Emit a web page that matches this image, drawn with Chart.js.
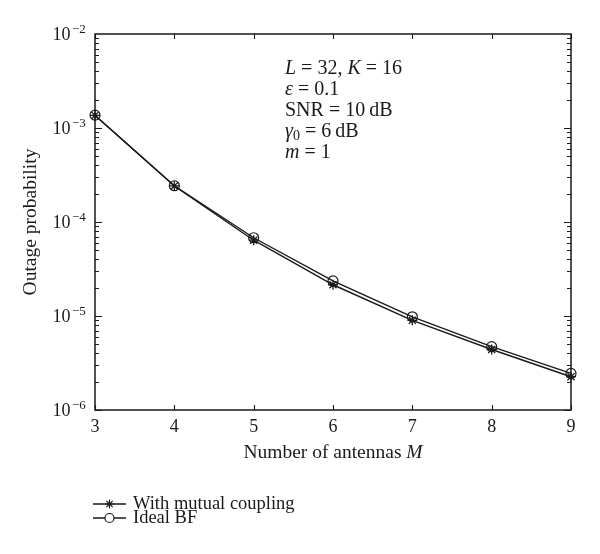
<!DOCTYPE html>
<html>
<head>
<meta charset="utf-8">
<script src="https://cdn.jsdelivr.net/npm/chart.js@4/dist/chart.umd.min.js"></script>
<style>
html,body{margin:0;padding:0;background:#fff;}
#c{display:block;}
</style>
</head>
<body>
<canvas id="c" width="600" height="554"></canvas>
<script>
// ---- data ----
const antennas = [3, 4, 5, 6, 7, 8, 9];
const withMutualCoupling = [1.36e-3, 2.42e-4, 6.4e-5, 2.15e-5, 9.0e-6, 4.4e-6, 2.26e-6];
const idealBF = [1.37e-3, 2.43e-4, 6.8e-5, 2.36e-5, 9.8e-6, 4.72e-6, 2.45e-6];
const xTickValues = [3, 4, 5, 6, 7, 8, 9];
const yDecadeExponents = [-2, -3, -4, -5, -6];
const seriesNames = ['With mutual coupling', 'Ideal BF'];
const xTitle = 'Number of antennas ';
const xTitleItalic = 'M';
const yTitle = 'Outage probability';

const FONT = '"Liberation Serif", "Times New Roman", serif';
const INK = '#1a1a1a';

function runs(ctx, x, y, parts, base) {
  let cx = x;
  for (const p of parts) {
    ctx.font = (p.italic ? 'italic ' : '') + (p.size || base || 17) + 'px ' + FONT;
    ctx.fillText(p.t, cx, y + (p.dy || 0));
    cx += ctx.measureText(p.t).width;
  }
  return cx;
}

const framePlugin = {
  id: 'frame',
  afterDraw(chart) {
    const ctx = chart.ctx;
    const a = chart.chartArea;
    const xs = chart.scales.x, ys = chart.scales.y;
    ctx.save();
    ctx.strokeStyle = INK;
    ctx.fillStyle = INK;
    // box
    ctx.lineWidth = 1.5;
    ctx.strokeRect(a.left, a.top, a.right - a.left, a.bottom - a.top);
    ctx.lineWidth = 1.1;
    // x ticks (inward, bottom & top)
    ctx.beginPath();
    for (const v of xTickValues) {
      const px = Math.round(xs.getPixelForValue(v)) + 0.5;
      ctx.moveTo(px, a.bottom); ctx.lineTo(px, a.bottom - 5);
      ctx.moveTo(px, a.top); ctx.lineTo(px, a.top + 5);
    }
    // y ticks major & minor
    for (let e = -6; e <= -3; e++) {
      for (let k = 1; k <= 9; k++) {
        const py = Math.round(ys.getPixelForValue(k * Math.pow(10, e))) + 0.5;
        const len = k === 1 ? 7 : 4;
        ctx.moveTo(a.left, py); ctx.lineTo(a.left + len, py);
        ctx.moveTo(a.right, py); ctx.lineTo(a.right - len, py);
      }
    }
    ctx.stroke();

    // x tick labels
    ctx.font = '18px ' + FONT;
    ctx.textAlign = 'center';
    ctx.textBaseline = 'alphabetic';
    for (const v of xTickValues) {
      ctx.fillText(String(v), xs.getPixelForValue(v), a.bottom + 22);
    }
    // y tick labels
    for (const e of yDecadeExponents) {
      const py = ys.getPixelForValue(Math.pow(10, e));
      ctx.textAlign = 'right';
      ctx.font = '18px ' + FONT;
      ctx.fillText('10', 70.5, py + 5.5);
      ctx.textAlign = 'left';
      ctx.font = '13px ' + FONT;
      ctx.fillText('\u2212' + Math.abs(e), 72, py - 1);
    }
    // x title
    const TS = 19.5;
    ctx.textAlign = 'left';
    ctx.font = TS + 'px ' + FONT;
    const w1 = ctx.measureText(xTitle).width;
    ctx.font = 'italic ' + TS + 'px ' + FONT;
    const w2 = ctx.measureText(xTitleItalic).width;
    const cx = (a.left + a.right) / 2;
    runs(ctx, cx - (w1 + w2) / 2, 458, [{t: xTitle}, {t: xTitleItalic, italic: true}], TS);
    // y title
    ctx.save();
    ctx.translate(36, (a.top + a.bottom) / 2);
    ctx.rotate(-Math.PI / 2);
    ctx.textAlign = 'center';
    ctx.font = TS + 'px ' + FONT;
    ctx.fillText(yTitle, 0, 0);
    ctx.restore();

    // annotation
    ctx.textAlign = 'left';
    const ax = 285, AS = 20;
    runs(ctx, ax, 73.5, [{t: 'L', italic: true}, {t: ' = 32, '}, {t: 'K', italic: true}, {t: ' = 16'}], AS);
    runs(ctx, ax, 94.8, [{t: '\u03b5', italic: true}, {t: ' = 0.1'}], AS);
    runs(ctx, ax, 116, [{t: 'SNR = 10\u2009dB'}], AS);
    runs(ctx, ax, 137, [{t: '\u03b3', italic: true}, {t: '0', size: 14, dy: 3}, {t: ' = 6\u2009dB'}], AS);
    runs(ctx, ax, 158.3, [{t: 'm', italic: true}, {t: ' = 1'}], AS);

    // legend
    const rows = [{y: 504, style: 'star'}, {y: 518, style: 'circle'}];
    rows.forEach((r, i) => {
      ctx.lineWidth = 1.4;
      ctx.beginPath();
      ctx.moveTo(93, r.y); ctx.lineTo(126, r.y);
      ctx.stroke();
      if (r.style === 'circle') {
        ctx.fillStyle = '#fff';
        ctx.beginPath(); ctx.arc(109.5, r.y, 4.5, 0, Math.PI * 2); ctx.fill();
        ctx.fillStyle = INK;
        ctx.lineWidth = 1.2;
        ctx.beginPath(); ctx.arc(109.5, r.y, 4.5, 0, Math.PI * 2); ctx.stroke();
      } else {
        ctx.lineWidth = 1.2;
        Chart.helpers.drawPoint(ctx, {pointStyle: r.style, radius: 4.5, borderWidth: 1.2, rotation: 0}, 109.5, r.y);
      }
      ctx.font = '18.5px ' + FONT;
      ctx.fillText(seriesNames[i], 133, r.y + 4.5);
    });
    ctx.restore();
  }
};

new Chart(document.getElementById('c'), {
  type: 'line',
  data: {
    datasets: [
      {
        label: seriesNames[0],
        data: antennas.map((m, i) => ({x: m, y: withMutualCoupling[i]})),
        borderColor: INK,
        borderWidth: 1.4,
        pointStyle: 'star',
        pointRadius: 5,
        pointBorderWidth: 1.3,
        pointBorderColor: INK,
        pointBackgroundColor: INK,
        tension: 0,
        fill: false,
        clip: false
      },
      {
        label: seriesNames[1],
        data: antennas.map((m, i) => ({x: m, y: idealBF[i]})),
        borderColor: INK,
        borderWidth: 1.4,
        pointStyle: 'circle',
        pointRadius: 5,
        pointBorderWidth: 1.2,
        pointBorderColor: INK,
        pointBackgroundColor: 'rgba(0,0,0,0)',
        tension: 0,
        fill: false,
        clip: false
      }
    ]
  },
  options: {
    responsive: false,
    animation: false,
    events: [],
    layout: {padding: {left: 0, top: 34, right: 29, bottom: 0}},
    plugins: {legend: {display: false}, tooltip: {enabled: false}},
    scales: {
      x: {
        type: 'linear', min: 3, max: 9,
        grid: {display: false}, border: {display: false},
        ticks: {display: false, stepSize: 1},
        afterFit(s) { s.height = 144; }
      },
      y: {
        type: 'logarithmic', min: 1e-6, max: 1e-2,
        grid: {display: false}, border: {display: false},
        ticks: {display: false},
        afterFit(s) { s.width = 95; }
      }
    }
  },
  plugins: [framePlugin]
});
</script>
</body>
</html>
